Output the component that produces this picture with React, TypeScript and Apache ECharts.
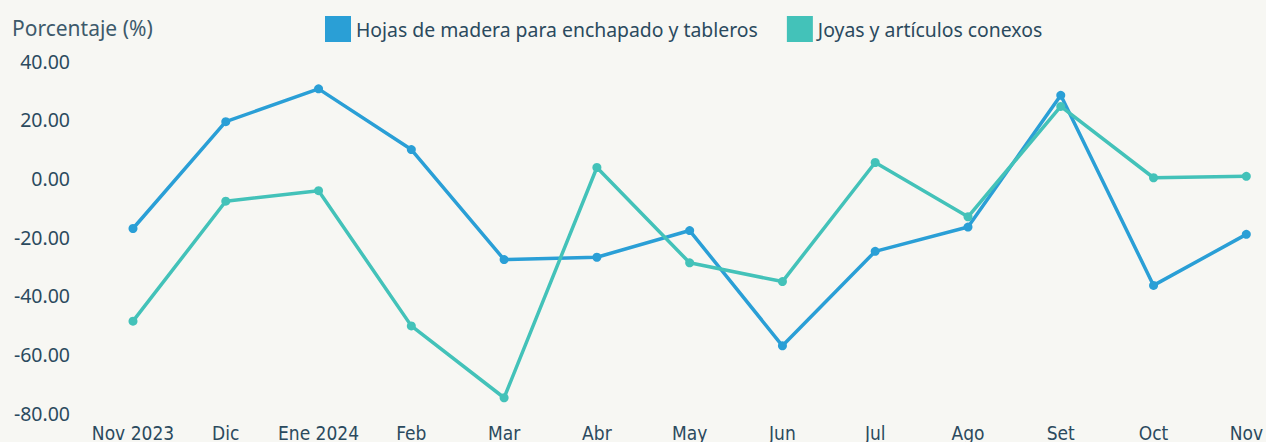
import React, { useEffect, useRef } from "react";
import * as echarts from "echarts";

const categories = ["Nov 2023", "Dic", "Ene 2024", "Feb", "Mar", "Abr", "May", "Jun", "Jul", "Ago", "Set", "Oct", "Nov"];
const hojasMadera = [-17.1, 19.3, 30.5, 9.8, -27.7, -26.9, -17.8, -57.1, -24.9, -16.6, 28.3, -36.5, -19.1];
const joyas = [-48.7, -7.8, -4.2, -50.3, -74.8, 3.7, -28.8, -35.2, 5.4, -13.1, 24.5, 0.2, 0.7];
const seriesNames = ["Hojas de madera para enchapado y tableros", "Joyas y artículos conexos"];
const axisTitle = "Porcentaje (%)";

const textColor = "#2b4a5e";
const font = "Noto Sans";

export default function App() {
  const ref = useRef<HTMLDivElement>(null);
  useEffect(() => {
    const chart = echarts.init(ref.current!, null, { renderer: "svg" });
    chart.setOption({
      animation: false,
      backgroundColor: "#f7f7f3",
      color: ["#2a9fd6", "#43c2b9"],
      title: {
        text: axisTitle,
        left: 7,
        top: 12,
        textStyle: { color: "#3d5a6b", fontSize: 21, fontWeight: "normal", fontFamily: font },
      },
      legend: {
        left: 320,
        top: 11,
        itemWidth: 26,
        itemHeight: 26,
        itemGap: 29,
        icon: "rect",
        textStyle: { color: textColor, fontSize: 19.4, fontFamily: font },
        data: seriesNames,
      },
      grid: { left: 133, right: 19, top: 61, bottom: 28, containLabel: false },
      xAxis: {
        type: "category",
        data: categories,
        boundaryGap: false,
        axisLine: { show: false },
        axisTick: { show: false },
        axisLabel: {
          color: textColor,
          fontSize: 19,
          fontFamily: "'DejaVu Sans Condensed', 'Noto Sans'",
          margin: 10,
          interval: 0,
        },
      },
      yAxis: {
        type: "value",
        min: -80,
        max: 40,
        interval: 20,
        splitLine: { show: false },
        axisLine: { show: false },
        axisTick: { show: false },
        axisLabel: {
          color: textColor,
          fontSize: 19.5,
          fontFamily: font,
          margin: 63,
          formatter: (v: number) => v.toFixed(2),
        },
      },
      series: [
        {
          name: seriesNames[0],
          type: "line",
          data: hojasMadera,
          symbol: "circle",
          symbolSize: 9,
          lineStyle: { width: 3.5 },
        },
        {
          name: seriesNames[1],
          type: "line",
          data: joyas,
          symbol: "circle",
          symbolSize: 9,
          lineStyle: { width: 3.5 },
        },
      ],
    });
    return () => chart.dispose();
  }, []);
  return <div ref={ref} style={{ position: "fixed", left: 0, top: 0, width: 1266, height: 442 }} />;
}
